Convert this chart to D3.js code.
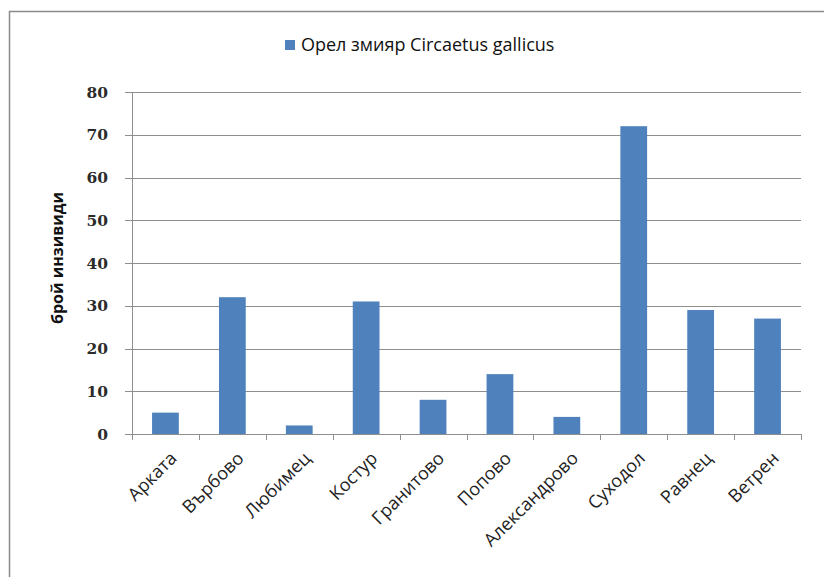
<!DOCTYPE html>
<html>
<head>
<meta charset="utf-8">
<script src="https://cdn.jsdelivr.net/npm/d3@7"></script>
<style>
  body { margin: 0; background: #fff; }
  svg { display: block; font-family: "Open Sans", Lato, sans-serif; }
</style>
</head>
<body>
<svg id="chart" width="824" height="577"></svg>
<script>
var categories = ["Арката", "Върбово", "Любимец", "Костур", "Гранитово",
  "Попово", "Александрово", "Суходол", "Равнец", "Ветрен"];
var values = [5, 32, 2, 31, 8, 14, 4, 72, 29, 27];
var yTicks = [0, 10, 20, 30, 40, 50, 60, 70, 80];
var seriesName = "Орел змияр Circaetus gallicus";
var axisTitle = "брой инзивиди";

var svg = d3.select("#chart");
var plotLeft = 132, plotRight = 801, plotTop = 92, plotBottom = 434;
var gridColor = "#8e8e8e";
var barColor = "#4f81bd";

// chart frame (runs off right and bottom like the original)
svg.append("rect")
  .attr("x", 9.5).attr("y", 11.5)
  .attr("width", 840).attr("height", 600)
  .attr("fill", "none")
  .attr("stroke", "#8a8a8a")
  .attr("stroke-width", 1.5);

var x = d3.scaleBand()
  .domain(categories)
  .range([plotLeft, plotRight])
  .paddingInner(0.6)
  .paddingOuter(0.3);

var y = d3.scaleLinear()
  .domain([0, 80])
  .range([plotBottom, plotTop]);

// gridlines + y labels
var yg = svg.append("g");
yg.selectAll("line")
  .data(yTicks)
  .enter().append("line")
  .attr("x1", plotLeft - 7).attr("x2", plotRight)
  .attr("y1", function (d) { return Math.round(y(d)) + 0.5; })
  .attr("y2", function (d) { return Math.round(y(d)) + 0.5; })
  .attr("stroke", gridColor)
  .attr("stroke-width", 1);

yg.selectAll("text")
  .data(yTicks)
  .enter().append("text")
  .attr("x", plotLeft - 24)
  .attr("y", function (d) { return y(d); })
  .attr("dy", "0.36em")
  .attr("text-anchor", "end")
  .attr("font-family", "'DejaVu Serif', serif")
  .attr("font-size", 15.5)
  .attr("font-weight", "bold")
  .attr("fill", "#2b2b2b")
  .text(function (d) { return d; });

// y axis line
svg.append("line")
  .attr("x1", plotLeft + 0.5).attr("x2", plotLeft + 0.5)
  .attr("y1", plotTop).attr("y2", plotBottom)
  .attr("stroke", gridColor);

// bars
svg.append("g").selectAll("rect")
  .data(values)
  .enter().append("rect")
  .attr("x", function (d, i) { return x(categories[i]); })
  .attr("y", function (d) { return y(d); })
  .attr("width", x.bandwidth())
  .attr("height", function (d) { return y(0) - y(d); })
  .attr("fill", barColor);

// x axis with ticks at category boundaries
var step = x.step();
var xt = d3.range(categories.length + 1);
svg.append("line")
  .attr("x1", plotLeft).attr("x2", plotRight)
  .attr("y1", plotBottom + 0.5).attr("y2", plotBottom + 0.5)
  .attr("stroke", gridColor);
svg.append("g").selectAll("line")
  .data(xt)
  .enter().append("line")
  .attr("x1", function (d) { return Math.round(plotLeft + d * step) + 0.5; })
  .attr("x2", function (d) { return Math.round(plotLeft + d * step) + 0.5; })
  .attr("y1", plotBottom).attr("y2", plotBottom + 6)
  .attr("stroke", gridColor);

svg.append("g").selectAll("text")
  .data(categories)
  .enter().append("text")
  .attr("transform", function (d) {
    return "translate(" + (x(d) + x.bandwidth() / 2 + 8) + "," + (plotBottom + 21) + ") rotate(-45)";
  })
  .attr("text-anchor", "end")
  .attr("dy", "0.35em")
  .attr("font-size", 18)
  .attr("fill", "#222")
  .text(function (d) { return d; });

// y axis title
svg.append("text")
  .attr("transform", "translate(57,258) rotate(-90)")
  .attr("text-anchor", "middle")
  .attr("dy", "0.35em")
  .attr("font-size", 16)
  .attr("font-weight", "bold")
  .attr("fill", "#111")
  .text(axisTitle);

// legend
var lg = svg.append("g").attr("transform", "translate(285,40)");
lg.append("rect")
  .attr("width", 10).attr("height", 10)
  .attr("fill", barColor);
lg.append("text")
  .attr("x", 16).attr("y", 5)
  .attr("dy", "0.36em")
  .attr("font-size", 18)
  .attr("fill", "#111")
  .text(seriesName);
</script>
</body>
</html>
